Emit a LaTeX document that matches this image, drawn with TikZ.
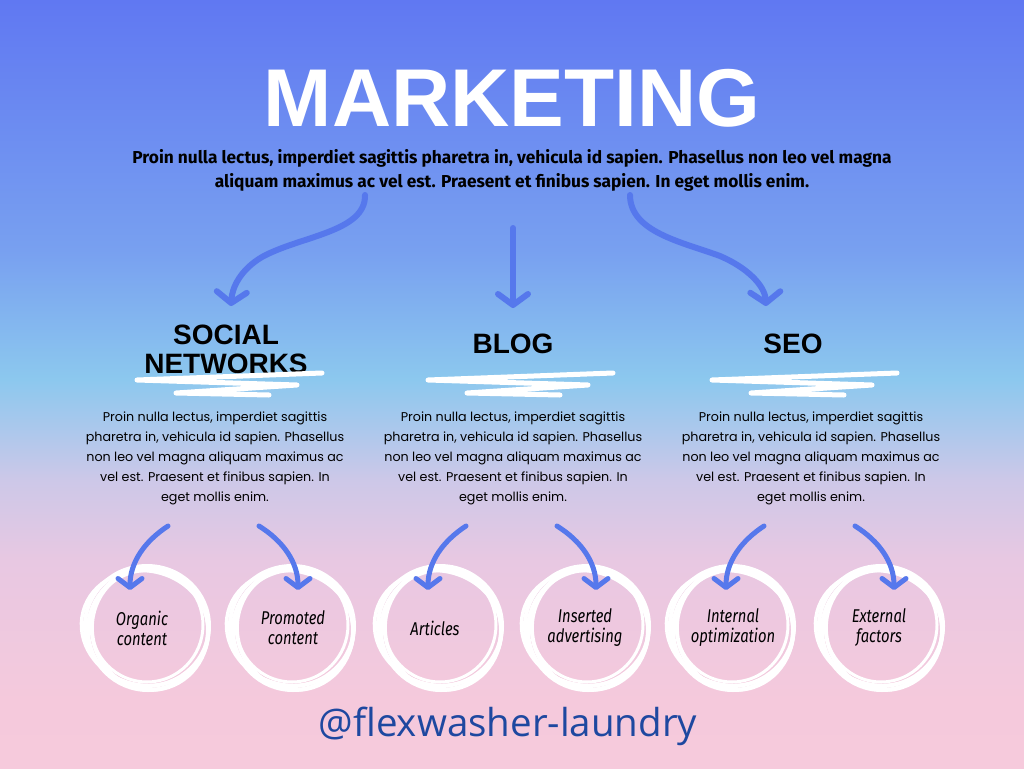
\documentclass[tikz,border=0pt]{standalone}
\usepackage{fontspec}
\usetikzlibrary{arrows.meta}
\setmainfont{Liberation Sans}
\newfontfamily\titlef{Liberation Sans}
\newfontfamily\introf{Fira Sans}
\newfontfamily\headf{Liberation Sans}
\newfontfamily\bodyf{Poppins}
\newfontfamily\circf{Fira Sans}[FakeStretch=0.8]
\newfontfamily\handlef{Open Sans}

\definecolor{bgA}{RGB}{96,120,242}
\definecolor{bgA2}{RGB}{120,160,240}
\definecolor{bgB}{RGB}{140,200,238}
\definecolor{bgB2}{RGB}{172,200,236}
\definecolor{bgC}{RGB}{205,200,232}
\definecolor{bgD}{RGB}{232,200,226}
\definecolor{bgE}{RGB}{245,201,220}
\definecolor{bgF}{RGB}{246,202,220}
\definecolor{arrowblue}{RGB}{86,120,236}
\definecolor{handleblue}{RGB}{30,72,160}

\pgfdeclareverticalshading{bgshade}{100bp}{color(0bp)=(bgF); color(25bp)=(bgF); color(29.4bp)=(bgE); color(38.5bp)=(bgD); color(43.75bp)=(bgC); color(47bp)=(bgB2); color(50.3bp)=(bgB); color(58.7bp)=(bgA2); color(75bp)=(bgA); color(100bp)=(bgA)}

\tikzset{
  bigarrow/.style={draw=arrowblue, line width=6pt, line cap=round, -{Straight Barb[length=11pt,width=30pt,round]}},
  smallarrow/.style={draw=arrowblue, line width=5pt, line cap=round, -{Straight Barb[length=9pt,width=24pt,round]}},
  headtext/.style={font=\headf\bfseries\fontsize{28}{29}\selectfont, align=center, inner sep=0pt},
  bodytext/.style={font=\bodyf\fontsize{12.7}{20}\selectfont, align=center, inner sep=0pt},
  circtext/.style={font=\circf\itshape\fontsize{18.5}{20}\selectfont, align=center, inner sep=0pt},
  ring/.style={draw=white, line width=4pt},
  scrib/.style={draw=white, line width=5pt, line cap=round, line join=round},
  scribble/.pic={
    \path[scrib] (100,-8) -- (-85,-1) -- (75,4) -- (-46,12) -- (47,14);
  },
  handring/.pic={
    \draw[ring] (0,0) ellipse [x radius=62, y radius=60];
    \draw[ring, line width=4pt] (3,3) ellipse [x radius=58, y radius=61, rotate=12];
    \draw[ring, line width=3.5pt] (-2,2) ellipse [x radius=64, y radius=57, rotate=-15];
    \draw[ring, line width=4pt] (1,4) ellipse [x radius=60, y radius=60];
    \draw[ring, line width=3pt] (0,-1) ellipse [x radius=56, y radius=57];
  }
}

\begin{document}
\begin{tikzpicture}[x=1pt,y=-1pt]
\useasboundingbox (0,0) rectangle (1024,768);
\shade[shading=bgshade] (0,0) rectangle (1024,768);

% title and intro
\node[text=white, inner sep=0pt, font=\titlef\bfseries\fontsize{82}{82}\selectfont] (title) at (512,98) {MARKETING};
\node[inner sep=0pt, align=center, font=\introf\bfseries\fontsize{17.3}{24}\selectfont] (intro) at (512,170)
  {Proin nulla lectus, imperdiet sagittis pharetra in, vehicula id sapien. Phasellus non leo vel magna\\
   aliquam maximus ac vel est. Praesent et finibus sapien. In eget mollis enim.};

% headings
\node[headtext] (h1) at (226,349) {SOCIAL\\NETWORKS};
\node[headtext] (h2) at (513,344) {BLOG};
\node[headtext] (h3) at (793,344) {SEO};

\pic at (222,381) {scribble};
\pic at (513,381) {scribble};
\pic at (797,381) {scribble};

% body texts
\node[bodytext] (b1) at (215,458) {Proin nulla lectus, imperdiet sagittis\\pharetra in, vehicula id sapien. Phasellus\\non leo vel magna aliquam maximus ac\\vel est. Praesent et finibus sapien. In\\eget mollis enim.};
\node[bodytext] (b2) at (513,458) {Proin nulla lectus, imperdiet sagittis\\pharetra in, vehicula id sapien. Phasellus\\non leo vel magna aliquam maximus ac\\vel est. Praesent et finibus sapien. In\\eget mollis enim.};
\node[bodytext] (b3) at (811,458) {Proin nulla lectus, imperdiet sagittis\\pharetra in, vehicula id sapien. Phasellus\\non leo vel magna aliquam maximus ac\\vel est. Praesent et finibus sapien. In\\eget mollis enim.};

% top arrows
\coordinate (a1s) at (365,195);
\coordinate (a1e) at (231,306);
\coordinate (a2s) at (513,228);
\coordinate (a2e) at (513,308);
\coordinate (a3s) at (630,195);
\coordinate (a3e) at (766,306);
\draw[bigarrow] (a1s) .. controls (366,232) and (300,236) .. (262,257) .. controls (240,270) and (232,288) .. (a1e);
\draw[bigarrow] (a2s) -- (a2e);
\draw[bigarrow] (a3s) .. controls (630,232) and (682,242) .. (720,256) .. controls (748,268) and (765,286) .. (a3e);

% rings
\foreach \x in {147,292,440,587,732,881}{
  \pic at (\x,626) {handring};
}
\node[circtext] (c11) at (142,628) {Organic\\content};
\node[circtext] (c12) at (293,628) {Promoted\\content};
\node[circtext] (c21) at (435,628) {Articles};
\node[circtext] (c22) at (585,628) {Inserted\\advertising};
\node[circtext] (c31) at (733,628) {Internal\\optimization};
\node[circtext] (c32) at (879,628) {External\\factors};

% small arrows
\foreach \c/\i in {215/1,513/2,811/3}{
  \coordinate (l\i s) at (\c-47,526);
  \coordinate (l\i e) at (\c-85,590);
  \coordinate (r\i s) at (\c+44,526);
  \coordinate (r\i e) at (\c+83,590);
  \draw[smallarrow] (l\i s) .. controls (\c-70,541) and (\c-85,562) .. (l\i e);
  \draw[smallarrow] (r\i s) .. controls (\c+68,541) and (\c+83,562) .. (r\i e);
}

% handle
\node[inner sep=0pt, text=handleblue, font=\handlef\fontsize{38.5}{40}\selectfont] (handle) at (508,726) {@flexwasher-laundry};
\end{tikzpicture}
\end{document}
